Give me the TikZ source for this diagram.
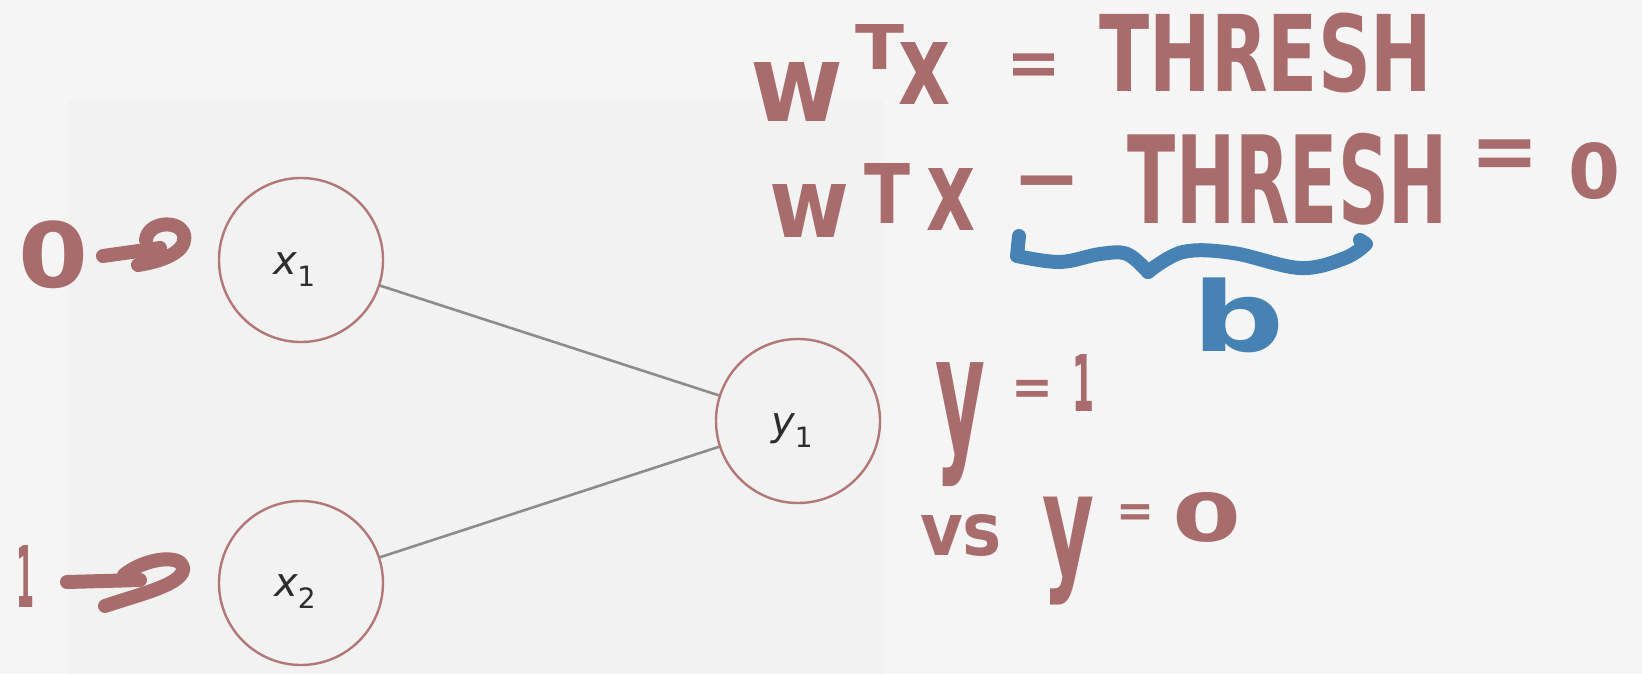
\documentclass[tikz,border=0pt]{standalone}
\usepackage{fontspec}
\setmainfont{DejaVu Sans}
\usepackage{graphicx}
\newdimen\pxu \pxu=0.5pt
\newcommand\hwtok[3]{\resizebox*{#1\pxu}{#2\pxu}{\bfseries #3}}
\newcommand\hwwide[2]{\resizebox{#1\pxu}{!}{\bfseries #2}}
\definecolor{bgcol}{RGB}{245,245,245}
\definecolor{panelcol}{RGB}{242,242,242}
\definecolor{hwred}{RGB}{168,108,108}
\definecolor{hwblue}{RGB}{70,130,180}
\definecolor{nodeedge}{RGB}{178,120,120}
\definecolor{edgegray}{RGB}{140,140,140}
\definecolor{lbltext}{RGB}{45,45,45}
\tikzset{
  hw/.style={inner sep=0pt, outer sep=0pt, text=hwred},
  hwb/.style={inner sep=0pt, outer sep=0pt, text=hwblue},
  hwline/.style={draw=hwred, line width=7pt, line cap=round, line join=round},
  bline/.style={draw=hwblue, line width=7pt, line cap=round, line join=round},
  neuron/.style={circle, draw=nodeedge, line width=1.2pt, fill=panelcol, minimum size=82pt, inner sep=0pt},
  lbl/.style={inner sep=0pt, text=lbltext, font=\fontsize{20}{20}\selectfont},
  conn/.style={draw=edgegray, line width=1.3pt}
}
\newcommand\nlab[2]{{\itshape #1}\raisebox{-0.3em}{\fontsize{14}{14}\selectfont #2}}
\begin{document}
\begin{tikzpicture}[x=0.5pt, y=-0.5pt]
\useasboundingbox (0,0) rectangle (1642,674);
\fill[bgcol] (0,0) rectangle (1642,674);
\fill[panelcol] (68,100) rectangle (883,674);

% neurons
\node[neuron, label={[lbl, xshift=-3.25pt, yshift=-4.75pt]center:\nlab{x}{1}}] (x1) at (301,260) {};
\node[neuron, label={[lbl, xshift=-3pt, yshift=-4.5pt]center:\nlab{x}{2}}] (x2) at (301,583) {};
\node[neuron, label={[lbl, xshift=-3pt, yshift=-5pt]center:\nlab{y}{1}}] (y1) at (798,421) {};
\draw[conn] (x1) -- (y1);
\draw[conn] (x2) -- (y1);

% inputs
\node[hw] (in0) at (54,255) {\hwtok{70}{68}{0}};
\node[hw] (in1) at (25,576) {\hwtok{18}{62}{1}};
\draw[hwline] (103,256) -- (160,248);
\draw[hwline] (138,265) .. controls (170,260) and (190,248) .. (183,232)
  .. controls (176,220) and (148,222) .. (146,240);
\draw[hwline] (67,582) -- (140,580);
\draw[hwline] (105,606) .. controls (140,594) and (186,584) .. (183,567)
  .. controls (180,554) and (145,558) .. (124,575);

% line 1: w^T x = THRESH
\node[hw] (l1w) at (797,92) {\hwtok{93}{59}{w}};
\node[hw] (l1T) at (880,47) {\hwtok{49}{45}{T}};
\node[hw] (l1x) at (924,74) {\hwtok{52}{62}{x}};
\node[hw] (l1eq) at (1034,70) {\hwwide{55}{=}};
\node[hw] (l1th) at (1266,53) {\hwtok{333}{80}{THRESH}};

% line 2: w^T x - THRESH = 0
\node[hw] (l2w) at (809,211) {\hwtok{80}{53}{w}};
\node[hw] (l2T) at (887,193) {\hwtok{46}{60}{T}};
\node[hw] (l2x) at (951,199) {\hwtok{49}{62}{x}};
\node[hw] (l2m) at (1047,191) {\hwwide{69}{−}};
\node[hw] (l2th) at (1288,179) {\hwtok{320}{92}{THRESH}};
\node[hw] (l2eq) at (1505,160) {\hwwide{69}{=}};
\node[hw] (l2z) at (1594,171) {\hwtok{52}{57}{0}};

% brace and b
\draw[bline] (1019,236) -- plot[smooth, tension=0.6] coordinates {(1017,256) (1060,262) (1100,254) (1127,254) (1148,272)};
\draw[bline] plot[smooth, tension=0.6] coordinates {(1148,272) (1183,252) (1233,253) (1300,268) (1345,258) (1366,244)} -- (1360,240);
\node[hwb] (bb) at (1238,315) {\hwtok{92}{75}{b}};

% y = 1 vs y = 0
\node[hw] (y1a) at (960,425) {\hwtok{50}{124}{y}};
\node[hw] (y1eq) at (1032,392) {\hwwide{42}{=}};
\node[hw] (y1one) at (1083,383) {\hwtok{22}{57}{1}};
\node[hw] (vs) at (961,536) {\hwtok{82}{42}{vs}};
\node[hw] (y0a) at (1068,551) {\hwtok{52}{108}{y}};
\node[hw] (y0eq) at (1135,516) {\hwwide{38}{=}};
\node[hw] (y0z) at (1207,517) {\hwtok{69}{50}{0}};
\end{tikzpicture}
\end{document}
